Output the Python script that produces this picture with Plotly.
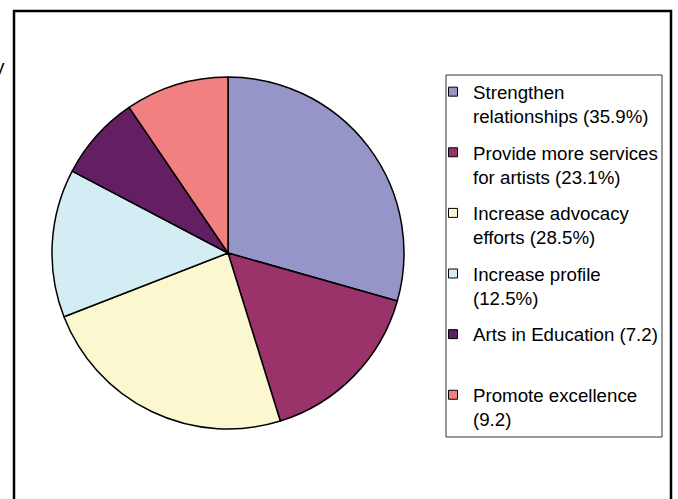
import plotly.graph_objects as go

W, H = 678, 499

# legend texts exactly as printed in the chart
labels = [
    "Strengthen<br>relationships (35.9%)",
    "Provide more services<br>for artists (23.1%)",
    "Increase advocacy<br>efforts (28.5%)",
    "Increase profile<br>(12.5%)",
    "Arts in Education (7.2)<br>\u00a0",
    "Promote excellence<br>(9.2)",
]
# slice sizes (share of the circle, %)
values = [29.4, 15.8, 23.9, 13.6, 7.8, 9.5]
colors = ["#9595C8", "#99336A", "#FBF8D0", "#D4ECF4", "#631F62", "#F28080"]

# pie geometry in pixels
cx, cy, r = 228, 253, 176

fig = go.Figure()
fig.add_trace(go.Pie(
    labels=labels,
    values=values,
    sort=False,
    direction="clockwise",
    rotation=0,
    textinfo="none",
    hoverinfo="label",
    showlegend=False,
    marker=dict(colors=colors, line=dict(color="black", width=1.5)),
    domain=dict(x=[(cx - r) / W, (cx + r) / W], y=[1 - (cy + r) / H, 1 - (cy - r) / H]),
))

# legend entries (one per slice, same order/colours)
for lab, col in zip(labels, colors):
    fig.add_trace(go.Scatter(
        x=[None], y=[None], mode="markers", name=lab, legendgroup=lab,
        marker=dict(symbol="square", size=9, color=col, line=dict(color="black", width=1)),
        hoverinfo="skip",
    ))

fig.update_layout(
    width=W, height=H,
    margin=dict(l=0, r=0, t=0, b=0),
    paper_bgcolor="white",
    plot_bgcolor="white",
    font=dict(family="Arial, Liberation Sans", size=18.7, color="black"),
    xaxis=dict(visible=False),
    yaxis=dict(visible=False),
    legend=dict(
        x=433 / W, xanchor="left",
        y=1 - 73 / H, yanchor="top",
        borderwidth=0,
        bgcolor="rgba(0,0,0,0)",
        valign="top",
        itemwidth=30,
        traceorder="grouped",
        tracegroupgap=9,
    ),
    shapes=[
        dict(type="rect", xref="paper", yref="paper",
             x0=14 / W, x1=671 / W, y0=-0.05, y1=1 - 11 / H,
             line=dict(color="black", width=2.5)),
        dict(type="rect", xref="paper", yref="paper",
             x0=446 / W, x1=662 / W, y0=1 - 437 / H, y1=1 - 75 / H,
             line=dict(color="#333333", width=1)),
    ],
    annotations=[dict(
        text="y", xref="paper", yref="paper",
        x=7 / W, xanchor="right", y=1 - 66 / H, yanchor="middle",
        showarrow=False, font=dict(size=19, color="black"),
    )],
)

fig.write_html("out.html")
